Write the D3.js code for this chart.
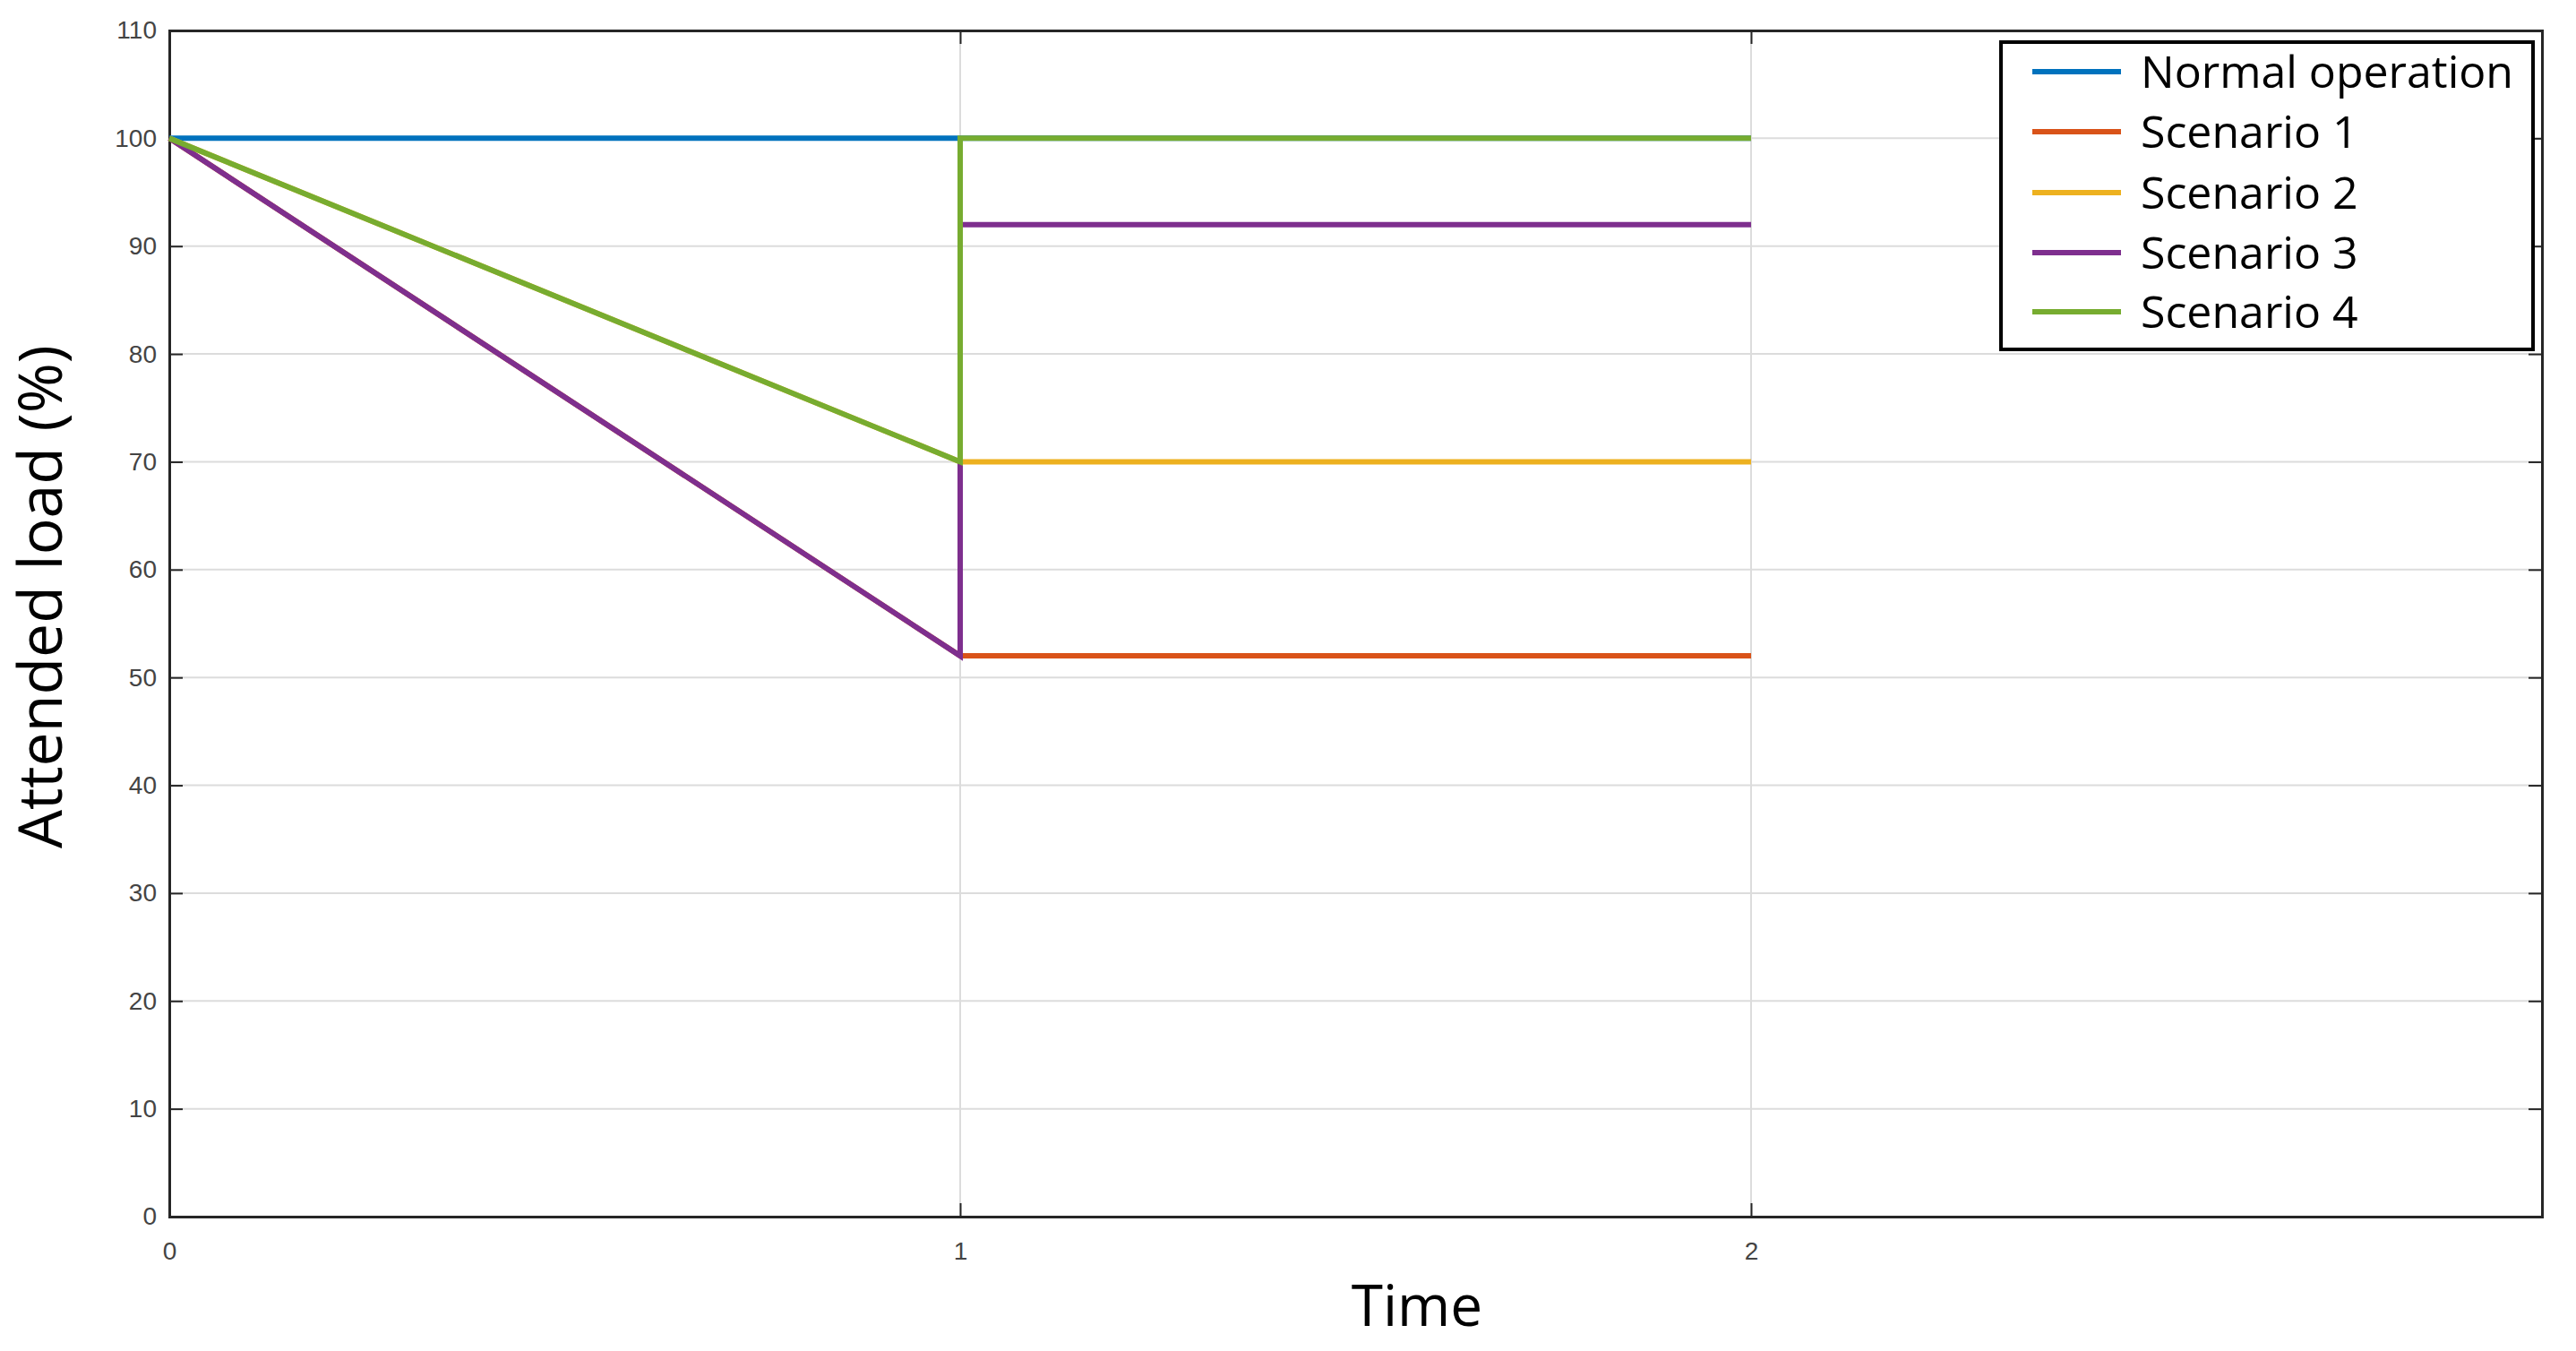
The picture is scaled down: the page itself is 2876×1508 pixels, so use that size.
<!DOCTYPE html>
<html><head><meta charset="utf-8">
<script src="https://cdn.jsdelivr.net/npm/d3@7"></script>
<style>body{margin:0;background:#fff}</style>
</head><body><div id="chart"></div>
<script>
var seriesNames = ["Normal operation", "Scenario 1", "Scenario 2", "Scenario 3", "Scenario 4"];
var seriesColors = ["#0072BD", "#D95319", "#EDB120", "#7E2F8E", "#77AC30"];
var normalOp = [[0, 100], [2, 100]];
var scenario1 = [[0, 100], [1, 52], [2, 52]];
var scenario2 = [[0, 100], [1, 70], [2, 70]];
var scenario3 = [[0, 100], [1, 52], [1, 92], [2, 92]];
var scenario4 = [[0, 100], [1, 70], [1, 100], [2, 100]];
var xTicks = [0, 1, 2];
var yTicks = [0, 10, 20, 30, 40, 50, 60, 70, 80, 90, 100, 110];

var W = 2876, H = 1508;
var margin = {top: 34, right: 38, bottom: 150, left: 189};
var width = W - margin.left - margin.right,
    height = H - margin.top - margin.bottom;

var svg = d3.select("#chart").append("svg")
    .attr("width", W).attr("height", H)
  .append("g")
    .attr("transform", "translate(" + margin.left + "," + margin.top + ")");

var x = d3.scaleLinear().domain([0, 3]).range([0, width]);
var y = d3.scaleLinear().domain([0, 110]).range([height, 0]);

// grid
svg.append("g").selectAll("line").data(yTicks).enter().append("line")
    .attr("x1", 0).attr("x2", width)
    .attr("y1", d => y(d)).attr("y2", d => y(d))
    .style("stroke", "#dcdcdc").style("stroke-width", 2);
svg.append("g").selectAll("line").data(xTicks).enter().append("line")
    .attr("x1", d => x(d)).attr("x2", d => x(d))
    .attr("y1", 0).attr("y2", height)
    .style("stroke", "#dcdcdc").style("stroke-width", 2);

// axes
var tickFont = "28px 'Liberation Sans Narrow', 'Liberation Sans', sans-serif";
svg.append("g").attr("transform", "translate(0," + height + ")")
    .call(d3.axisBottom(x).tickValues(xTicks).tickSize(-15).tickPadding(28).tickFormat(d3.format("d")));
svg.append("g")
    .call(d3.axisLeft(y).tickValues(yTicks).tickSize(-15).tickPadding(14).tickFormat(d3.format("d")));
svg.append("g").attr("transform", "translate(" + width + ",0)")
    .call(d3.axisRight(y).tickValues(yTicks).tickSize(-15).tickFormat(""));
svg.append("g")
    .call(d3.axisTop(x).tickValues(xTicks).tickSize(-15).tickFormat(""));
svg.selectAll(".domain").style("stroke", "#262626").style("stroke-width", 3);
svg.selectAll(".tick line").style("stroke", "#262626").style("stroke-width", 2);
svg.selectAll(".tick text").style("font", tickFont).style("fill", "#444");

// lines
var line = d3.line().x(d => x(d[0])).y(d => y(d[1]));
var allSeries = [normalOp, scenario1, scenario2, scenario3, scenario4];
svg.append("g").selectAll("path").data(allSeries).enter().append("path")
    .attr("d", line)
    .style("fill", "none")
    .style("stroke", (d, i) => seriesColors[i])
    .style("stroke-width", 6);

// axis labels
svg.append("text")
    .attr("x", 1393).attr("y", height + 122)
    .attr("text-anchor", "middle")
    .style("font", "64px 'Open Sans', sans-serif")
    .text("Time");
svg.append("text")
    .attr("transform", "translate(" + (-120) + "," + (height / 2 - 30) + ") rotate(-90)")
    .attr("text-anchor", "middle")
    .style("font", "68px 'Open Sans', sans-serif")
    .text("Attended load (%)");

// legend
var lg = svg.append("g").attr("transform", "translate(" + (2234 - margin.left) + "," + (47 - margin.top) + ")");
lg.append("rect").attr("width", 594).attr("height", 343)
    .style("fill", "#fff").style("stroke", "#000").style("stroke-width", 4);
var rowY = [33, 100, 168, 235, 301];
var items = lg.selectAll("g.item").data(seriesNames).enter().append("g")
    .attr("transform", (d, i) => "translate(0," + rowY[i] + ")");
items.append("line").attr("x1", 35).attr("x2", 134)
    .style("stroke", (d, i) => seriesColors[i]).style("stroke-width", 6);
items.append("text").attr("x", 156).attr("dy", "0.35em")
    .style("font", "50px 'Open Sans', sans-serif")
    .text(d => d);
</script>
</body></html>
